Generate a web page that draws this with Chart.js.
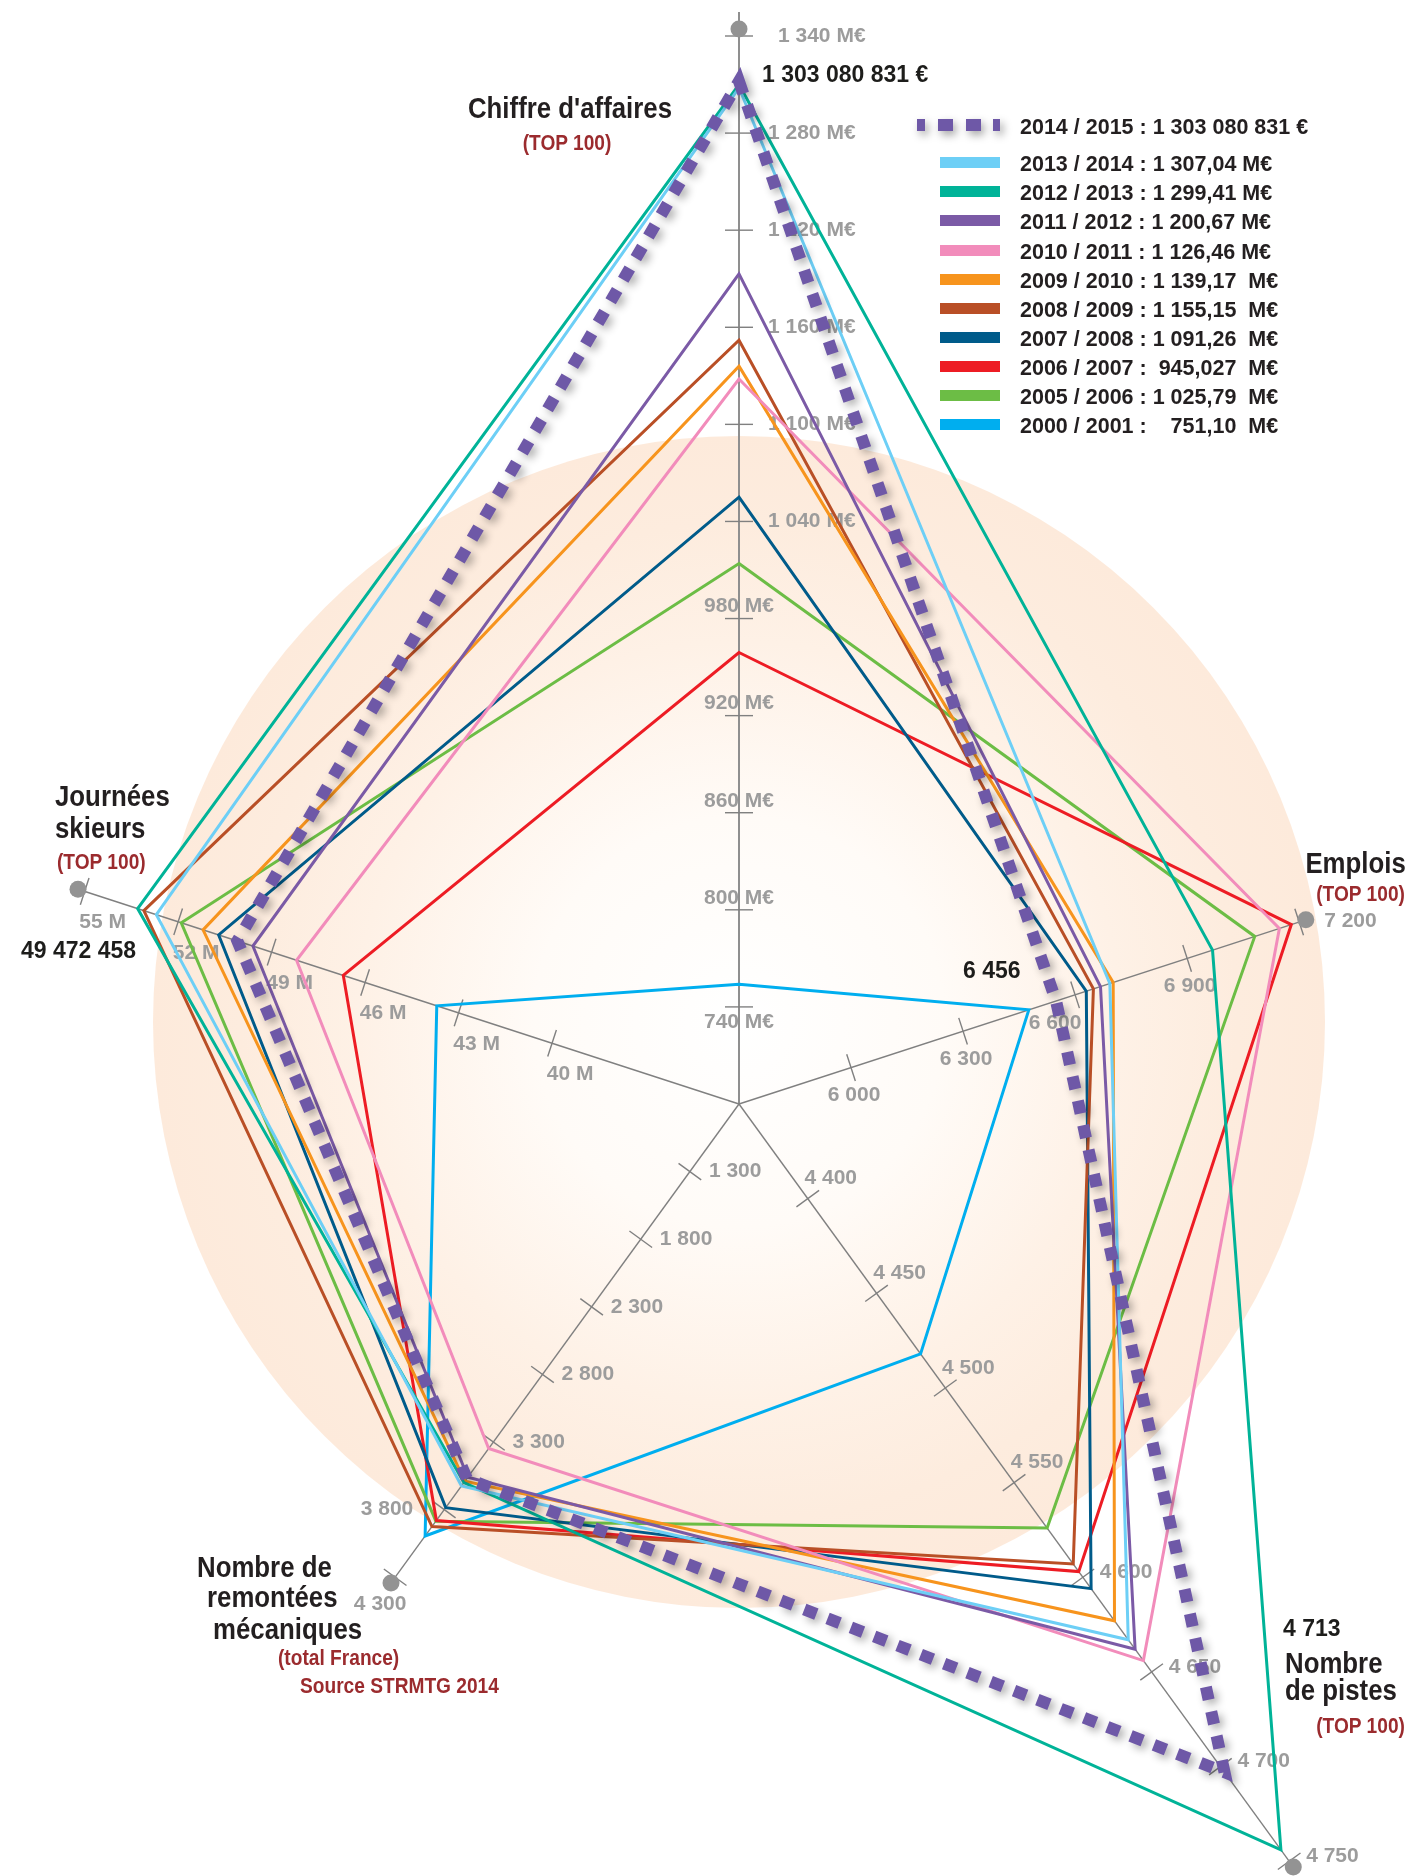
<!DOCTYPE html>
<html lang="fr">
<head>
<meta charset="utf-8">
<title>Domaines skiables – radar des indicateurs</title>
<script src="https://cdn.jsdelivr.net/npm/chart.js@4.4.1/dist/chart.umd.min.js"></script>
<style>
  html, body { margin: 0; padding: 0; background: #fff; }
  #wrap { position: relative; width: 1415px; height: 1876px; overflow: hidden; }
  #wrap canvas { position: absolute; left: 0; top: 0; }
  .t { position: absolute; white-space: pre; line-height: 1; }
  .title { font: bold 29px "Liberation Sans", sans-serif; color: #231f20; }
  .sub { font: bold 22px "Liberation Sans", sans-serif; color: #9b2b2e; }
  .val { font: bold 23px "Liberation Sans", sans-serif; color: #1d1d1b; }
  .leg { font: bold 21.5px "Liberation Sans", sans-serif; color: #231f20; }
  .sw { position: absolute; height: 11px; }
</style>
</head>
<body>
<div id="wrap"><canvas id="radar"></canvas></div>
<script>
/* Radar à 5 axes, chaque axe a sa propre échelle (valeur au centre -> valeur au dernier tick). */
const axisNames = ["Chiffre d'affaires", "Emplois", "Nombre de pistes", "Nombre de remontées mécaniques", "Journées skieurs"];
const axisFrom = [680, 5700, 4350, 800, 34];     // valeur au centre
const axisTo = [1340, 7200, 4750, 4300, 55];     // valeur au dernier tick

const caTicks = [740, 800, 860, 920, 980, 1040, 1100, 1160, 1220, 1280, 1340];
const emploisTicks = [6000, 6300, 6600, 6900, 7200];
const pistesTicks = [4400, 4450, 4500, 4550, 4600, 4650, 4700, 4750];
const remonteesTicks = [1300, 1800, 2300, 2800, 3300, 3800, 4300];
const journeesTicks = [40, 43, 46, 49, 52, 55];

const seasons = ["2014 / 2015", "2013 / 2014", "2012 / 2013", "2011 / 2012", "2010 / 2011", "2009 / 2010",
  "2008 / 2009", "2007 / 2008", "2006 / 2007", "2005 / 2006", "2000 / 2001"];
const legendAmounts = ["1 303 080 831 €", "1 307,04 M€", "1 299,41 M€", "1 200,67 M€", "1 126,46 M€", "1 139,17  M€",
  "1 155,15  M€", "1 091,26  M€", " 945,027  M€", "1 025,79  M€", "   751,10  M€"];
const latest = ["1 303 080 831 €", "6 456", "4 713", "49 472 458"];

// valeurs, même ordre que seasons
const chiffreAffaires = [1312, 1308, 1310, 1193, 1128, 1136, 1152, 1055, 959, 1014, 754];   // M€
const emplois = [6549, 6693, 6968, 6668, 7147, 6702, 6649, 6630, 7179, 7081, 6476];
const pistes = [4703, 4633, 4744, 4638, 4644, 4623, 4593, 4606, 4597, 4574, 4482];
const remontees = [3570, 3625, 3600, 3560, 3348, 3590, 3925, 3785, 3880, 3885, 3995];
const journees = [50.1, 52.7, 53.3, 49.6, 48.2, 51.2, 53.1, 50.7, 46.7, 51.9, 43.7];    // millions

const seasonColors = ["#6e58a7", "#6dcff6", "#00b398", "#7b5aa6", "#f28cbb", "#f7941d",
  "#b94f26", "#005b8a", "#ed1c24", "#6cbd45", "#00aeef"];

// --- mise en page (px) ---
const W = 1415;
const AXIS_LEN = [1068, 589, 936, 585, 688];   // centre -> dernier tick
const DOT_GAP = 7;
const byAxis = [chiffreAffaires, emplois, pistes, remontees, journees];
const tickSets = [caTicks, emploisTicks, pistesTicks, remonteesTicks, journeesTicks];

const dist = (i, v) => (v - axisFrom[i]) / (axisTo[i] - axisFrom[i]) * AXIS_LEN[i];
const sp = (n) => String(n).replace(/\B(?=(\d{3})+(?!\d))/g, " ");
const tickText = [
  (v) => sp(v) + " M€", (v) => sp(v), (v) => sp(v), (v) => sp(v), (v) => v + " M",
];
const tickPos = [
  (v) => v === 1340 ? { dx: 39, dy: 0, al: "left" } : v >= 1040 ? { dx: 29, dy: 0, al: "left" }
    : v === 740 ? { dx: 0, dy: 15, al: "center" } : { dx: 0, dy: -12, al: "center" },
  (v) => v === 7200 ? { dx: 25, dy: -1, al: "left" } : { dx: v === 6600 ? -20 : 3, dy: 28, al: "center" },
  (v) => v <= 4550 ? { dx: 23, dy: -20, al: "center" } : { dx: 17, dy: -5, al: "left" },
  (v) => v === 3800 ? { dx: -31, dy: 0, al: "right" } : v === 4300 ? { dx: -15, dy: 27, al: "center" }
    : { dx: 19, dy: 0, al: "left" },
  () => ({ dx: 18, dy: 31, al: "center" }),
];

const radarAxes = {
  id: "radarAxes",
  beforeDatasetsDraw(chart) {
    const { ctx } = chart;
    const r = chart.scales.r;
    const cx = r.xCenter, cy = r.yCenter;
    // halo pêche
    const gy = cy - 82, gr = 586;
    const g = ctx.createRadialGradient(cx, gy, 0, cx, gy, gr);
    g.addColorStop(0, "#ffffff");
    g.addColorStop(0.35, "#fffbf7");
    g.addColorStop(0.65, "#fef1e6");
    g.addColorStop(0.85, "#fdecde");
    g.addColorStop(1, "#fdeadb");
    ctx.save();
    ctx.fillStyle = g;
    ctx.beginPath(); ctx.arc(cx, gy, gr, 0, Math.PI * 2); ctx.fill();

    tickSets.forEach((ticks, i) => {
      const a = r.getIndexAngle(i) - Math.PI / 2;
      const nx = -Math.sin(a), ny = Math.cos(a);
      const end = r.getPointPositionForValue(i, AXIS_LEN[i] + (i === 0 ? 24 : DOT_GAP));
      ctx.strokeStyle = i === 0 ? "#8f8f8f" : "#808080";
      ctx.lineWidth = i === 0 ? 2 : 1.4;
      ctx.beginPath(); ctx.moveTo(cx, cy); ctx.lineTo(end.x, end.y); ctx.stroke();

      ctx.lineWidth = 1.4;
      ctx.strokeStyle = "#808080";
      ctx.font = 'bold 21px "Liberation Sans", sans-serif';
      ctx.fillStyle = "#9c9c9c";
      ctx.textBaseline = "middle";
      ticks.forEach((v) => {
        const p = r.getPointPositionForValue(i, dist(i, v));
        ctx.beginPath();
        ctx.moveTo(p.x - 14 * nx, p.y - 14 * ny);
        ctx.lineTo(p.x + 14 * nx, p.y + 14 * ny);
        ctx.stroke();
        const o = tickPos[i](v);
        ctx.textAlign = o.al;
        ctx.fillText(tickText[i](v), p.x + o.dx, p.y + o.dy);
      });
      const dot = r.getPointPositionForValue(i, AXIS_LEN[i] + DOT_GAP);
      ctx.fillStyle = "#939393";
      ctx.beginPath(); ctx.arc(dot.x, dot.y, 8.5, 0, Math.PI * 2); ctx.fill();
    });
    ctx.restore();
  },
};

// ombre portée sous la série 2014/2015 (pointillés)
const dashShadow = {
  id: "dashShadow",
  beforeDatasetDraw(chart, args) {
    if (args.index !== 0) return;
    const ctx = chart.ctx;
    ctx.save();
    ctx.shadowColor = "rgba(0,0,0,0.32)";
    ctx.shadowBlur = 9;
    ctx.shadowOffsetX = 4;
    ctx.shadowOffsetY = 4;
  },
  afterDatasetDraw(chart, args) {
    if (args.index === 0) chart.ctx.restore();
  },
};

new Chart(document.getElementById("radar"), {
  type: "radar",
  data: {
    labels: axisNames,
    datasets: seasons.map((s, k) => ({
      label: s,
      data: byAxis.map((arr, i) => dist(i, arr[k])),
      borderColor: seasonColors[k],
      borderWidth: k === 0 ? 12 : 3,
      borderDash: k === 0 ? [13, 12] : [],
      borderJoinStyle: "miter",
      fill: false,
      pointRadius: 0,
      pointHoverRadius: 0,
      clip: false,
    })),
  },
  options: {
    responsive: true,
    maintainAspectRatio: false,
    animation: false,
    layout: { padding: { left: 63, right: 0, top: 428, bottom: 96 } },
    plugins: { legend: { display: false }, tooltip: { enabled: false } },
    elements: { line: { tension: 0 } },
    scales: {
      r: {
        min: 0, max: 676,
        ticks: { display: false },
        grid: { display: false },
        angleLines: { display: false },
        pointLabels: { display: false },
      },
    },
  },
  plugins: [radarAxes, dashShadow],
});

// --- textes HTML ---
const wrap = document.getElementById("wrap");
const SIZE = { title: 29, sub: 22, val: 23, leg: 21.5 };
const NARROW = { title: 0.89, sub: 0.87, val: 1, leg: 1 };   // police étroite simulée
function put(text, cls, x, base, align = "left") {
  const el = document.createElement("div");
  el.className = "t " + cls;
  el.textContent = text;
  el.style.top = (base - 0.8465 * SIZE[cls]) + "px";
  if (align === "right") el.style.right = (W - x) + "px";
  else el.style.left = x + "px";
  const s = NARROW[cls];
  if (align === "center") {
    el.style.transform = `translateX(-50%) scaleX(${s})`;
    el.style.transformOrigin = "center";
  } else if (s !== 1) {
    el.style.transform = `scaleX(${s})`;
    el.style.transformOrigin = align === "right" ? "right center" : "left center";
  }
  wrap.appendChild(el);
}
put("Chiffre d'affaires", "title", 569.5, 116.7, "center");
put("(TOP 100)", "sub", 567, 149, "center");
put(latest[0], "val", 762, 80);
put("Emplois", "title", 1406, 872, "right");
put("(TOP 100)", "sub", 1405, 899.7, "right");
put(latest[1], "val", 963, 976.7);
put("Journées", "title", 55, 805);
put("skieurs", "title", 55, 837);
put("(TOP 100)", "sub", 57, 868);
put(latest[3], "val", 21, 956);
put(latest[2], "val", 1283, 1634);
put("Nombre", "title", 1285, 1671.7);
put("de pistes", "title", 1285, 1699);
put("(TOP 100)", "sub", 1405, 1732, "right");
put("Nombre de", "title", 197, 1576);
put("remontées", "title", 207, 1606);
put("mécaniques", "title", 213, 1638);
put("(total France)", "sub", 278, 1664);
put("Source STRMTG 2014", "sub", 300, 1692);

// légende
seasons.forEach((s, k) => {
  const cy = k === 0 ? 125.3 : 162.7 + (k - 1) * 29.1;
  const sw = document.createElement("div");
  sw.className = "sw";
  if (k === 0) {
    sw.style.left = "917px"; sw.style.width = "83px"; sw.style.height = "12px";
    sw.style.top = (cy - 6) + "px";
    sw.style.background = `repeating-linear-gradient(90deg, ${seasonColors[0]} 0 15px, transparent 15px 28px)`;
    sw.style.backgroundPosition = "-7px 0";
    sw.style.filter = "drop-shadow(3px 4px 4px rgba(0,0,0,0.35))";
  } else {
    sw.style.left = "940px"; sw.style.width = "60px";
    sw.style.top = (cy - 5.5) + "px";
    sw.style.background = seasonColors[k];
  }
  wrap.appendChild(sw);
  put(s + " : " + legendAmounts[k], "leg", 1020, cy + 7.7);
});
</script>
</body>
</html>
